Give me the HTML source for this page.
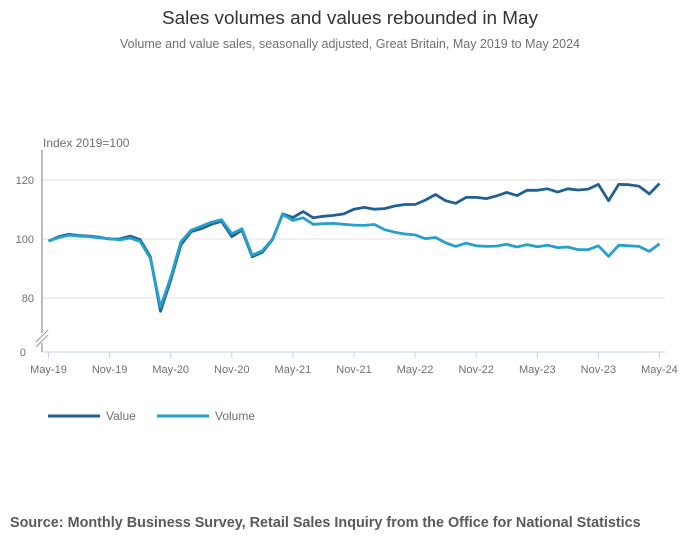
<!DOCTYPE html>
<html><head><meta charset="utf-8">
<style>
body{margin:0;background:#fff;font-family:"Liberation Sans",sans-serif;}
#wrap{position:relative;width:700px;height:549px;overflow:hidden;}
</style></head>
<body>
<div id="wrap">
<svg id="chart" width="700" height="549" font-family="Liberation Sans, sans-serif">
  <text x="350" y="24" text-anchor="middle" font-size="18.9" fill="#333">Sales volumes and values rebounded in May</text>
  <text x="350" y="48" text-anchor="middle" font-size="12.5" fill="#707070">Volume and value sales, seasonally adjusted, Great Britain, May 2019 to May 2024</text>
  <text x="43" y="147" font-size="12" fill="#707070">Index 2019=100</text>
  <g id="grid"></g>
  <g id="axes"></g>
  <g id="series"></g>
  <g>
    <line x1="48" y1="416" x2="100" y2="416" stroke="#206095" stroke-width="3"/>
    <text x="106" y="420" font-size="12" fill="#707070">Value</text>
    <line x1="157" y1="416" x2="209" y2="416" stroke="#27a0cc" stroke-width="3"/>
    <text x="215" y="420" font-size="12" fill="#707070">Volume</text>
  </g>
  <text x="10" y="527" font-size="14.4" font-weight="bold" fill="#5a5a5a">Source: Monthly Business Survey, Retail Sales Inquiry from the Office for National Statistics</text>
</svg>
</div>
<script>
const valueSeries=[99.3,100.8,101.6,101.2,101,100.6,100,100,101,99.8,94,75.5,86,98,102.5,103.5,105,106,100.8,103,94,95.5,99.8,108.5,107.3,109.3,107.2,107.7,108,108.5,110.1,110.7,110.1,110.3,111.2,111.7,111.7,113.2,115.1,113,112.1,114.1,114.1,113.7,114.6,115.8,114.7,116.5,116.5,117,115.9,117,116.6,116.9,118.5,113,118.5,118.4,117.9,115.3,118.8];
const volumeSeries=[99.3,100.5,101.3,101,100.8,100.4,100.1,99.7,100.3,99.2,93.5,77,87,99,103,104.3,105.7,106.5,101.8,103.5,94.5,96,100,108.3,106.3,107.2,105,105.2,105.3,105,104.7,104.6,104.9,103.2,102.3,101.7,101.4,100.1,100.5,98.7,97.5,98.6,97.7,97.5,97.6,98.2,97.3,98.1,97.4,97.9,97.1,97.3,96.4,96.4,97.7,94.1,97.9,97.7,97.5,95.8,98.4];
const xTickLabels=["May-19","Nov-19","May-20","Nov-20","May-21","Nov-21","May-22","Nov-22","May-23","Nov-23","May-24"];
const yTicks=[80,100,120];

const NS="http://www.w3.org/2000/svg";
const X0=48.5,XSTEP=10.183;
function xs(i){return X0+i*XSTEP;}
function ys(v){return 239-(v-100)*2.95;}
function mk(tag,attrs,parent){const e=document.createElementNS(NS,tag);for(const k in attrs)e.setAttribute(k,attrs[k]);parent.appendChild(e);return e;}
const grid=document.getElementById('grid'),axes=document.getElementById('axes'),series=document.getElementById('series');
yTicks.forEach(t=>{
  const l=mk('line',{x1:42,x2:665,y1:ys(t),y2:ys(t),stroke:'#e0e0e0','stroke-width':1},grid);
  
  
  const tx=mk('text',{x:34,y:ys(t)+4,'text-anchor':'end','font-size':11,fill:'#707070'},grid);
  tx.textContent=t;
  
  
});
const zl=mk('text',{x:26,y:356,'text-anchor':'end','font-size':11,fill:'#707070'},grid);
zl.textContent='0';


const ya=mk('line',{x1:42,x2:42,y1:150,y2:352,stroke:'#777','stroke-width':1},axes);


const gap=mk('rect',{x:36,y:333,width:12,height:10,fill:'#fff'},axes);


[[336],[341]].forEach(([y])=>{
  const b=mk('line',{x1:36,y1:y+6,x2:48,y2:y-6,stroke:'#999','stroke-width':1},axes);
  
  
});
const xa=mk('line',{x1:42,x2:665,y1:352,y2:352,stroke:'#c5d3e8','stroke-width':1},axes);


xTickLabels.forEach((lab,k)=>{
  const x=xs(k*6);
  const t=mk('line',{x1:x,x2:x,y1:352,y2:358,stroke:'#c5d3e8','stroke-width':1},axes);
  
  
  const tx=mk('text',{x:x,y:373,'text-anchor':'middle','font-size':11,fill:'#707070'},axes);
  tx.textContent=lab;
  
  
});
function path(arr,color,name){
  const d=arr.map((v,i)=>(i?'L':'M')+xs(i).toFixed(1)+' '+ys(v).toFixed(1)).join(' ');
  const p=mk('path',{d:d,fill:'none',stroke:color,'stroke-width':2.8,'stroke-linejoin':'round'},series);
  
  
}
path(valueSeries,'#206095','value-line');
path(volumeSeries,'#27a0cc','volume-line');
</script>
</body></html>
